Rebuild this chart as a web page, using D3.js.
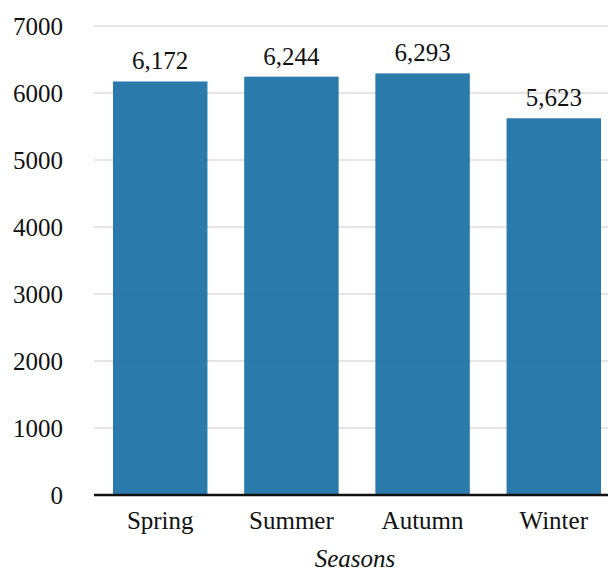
<!DOCTYPE html>
<html>
<head>
<meta charset="utf-8">
<script src="https://cdn.jsdelivr.net/npm/d3@7"></script>
<style>
  body { margin: 0; background: #fff; }
  text { font-family: "Liberation Serif", "DejaVu Serif", serif; fill: #111; }
</style>
</head>
<body>
<div id="chart-area"></div>
<script>
const seasons = ["Spring", "Summer", "Autumn", "Winter"]
const counts = [6172, 6244, 6293, 5623]
const yTicks = [0, 1000, 2000, 3000, 4000, 5000, 6000, 7000]

const WIDTH = 608
const HEIGHT = 573
const PLOT = { LEFT: 94, RIGHT: 608, TOP: 26, BOTTOM: 495 }

const svg = d3.select("#chart-area").append("svg")
  .attr("width", WIDTH)
  .attr("height", HEIGHT)

// Scales
const x = d3.scaleBand()
  .domain(seasons)
  .range([113, 601])
  .paddingInner(0.28)
  .paddingOuter(0)
const y = d3.scaleLinear()
  .domain([0, 7000])
  .range([PLOT.BOTTOM, PLOT.TOP])

// Grid
svg.append("g")
  .selectAll("line")
  .data(yTicks.filter(d => d > 0))
  .enter().append("line")
    .attr("x1", PLOT.LEFT)
    .attr("x2", PLOT.RIGHT)
    .attr("y1", d => y(d))
    .attr("y2", d => y(d))
    .attr("stroke", "#cccccc")
    .attr("stroke-width", 1.2)

// Y tick labels
svg.append("g")
  .selectAll("text")
  .data(yTicks)
  .enter().append("text")
    .attr("x", 63)
    .attr("y", d => y(d))
    .attr("dy", "0.35em")
    .attr("text-anchor", "end")
    .attr("font-size", "25px")
    .text(d => d)

// Bars
const data = seasons.map((s, i) => ({ season: s, value: counts[i] }))
svg.append("g")
  .selectAll("rect")
  .data(data)
  .enter().append("rect")
    .attr("x", d => x(d.season))
    .attr("y", d => y(d.value))
    .attr("width", x.bandwidth())
    .attr("height", d => y(0) - y(d.value))
    .attr("fill", "#1f74a6")
    .attr("fill-opacity", 0.95)

// Value labels
svg.append("g")
  .selectAll("text")
  .data(data)
  .enter().append("text")
    .attr("x", d => x(d.season) + x.bandwidth() / 2)
    .attr("y", d => y(d.value) - 12)
    .attr("text-anchor", "middle")
    .attr("font-size", "25px")
    .text(d => d3.format(",")(d.value))

// Baseline
svg.append("line")
  .attr("x1", PLOT.LEFT)
  .attr("x2", PLOT.RIGHT)
  .attr("y1", y(0))
  .attr("y2", y(0))
  .attr("stroke", "#111")
  .attr("stroke-width", 2.5)

// X labels
svg.append("g")
  .selectAll("text")
  .data(seasons)
  .enter().append("text")
    .attr("x", d => x(d) + x.bandwidth() / 2)
    .attr("y", 529)
    .attr("text-anchor", "middle")
    .attr("font-size", "25px")
    .text(d => d)

svg.append("text")
  .attr("x", 355)
  .attr("y", 567)
  .attr("text-anchor", "middle")
  .attr("font-size", "25px")
  .attr("font-style", "italic")
  .text("Seasons")
</script>
</body>
</html>
